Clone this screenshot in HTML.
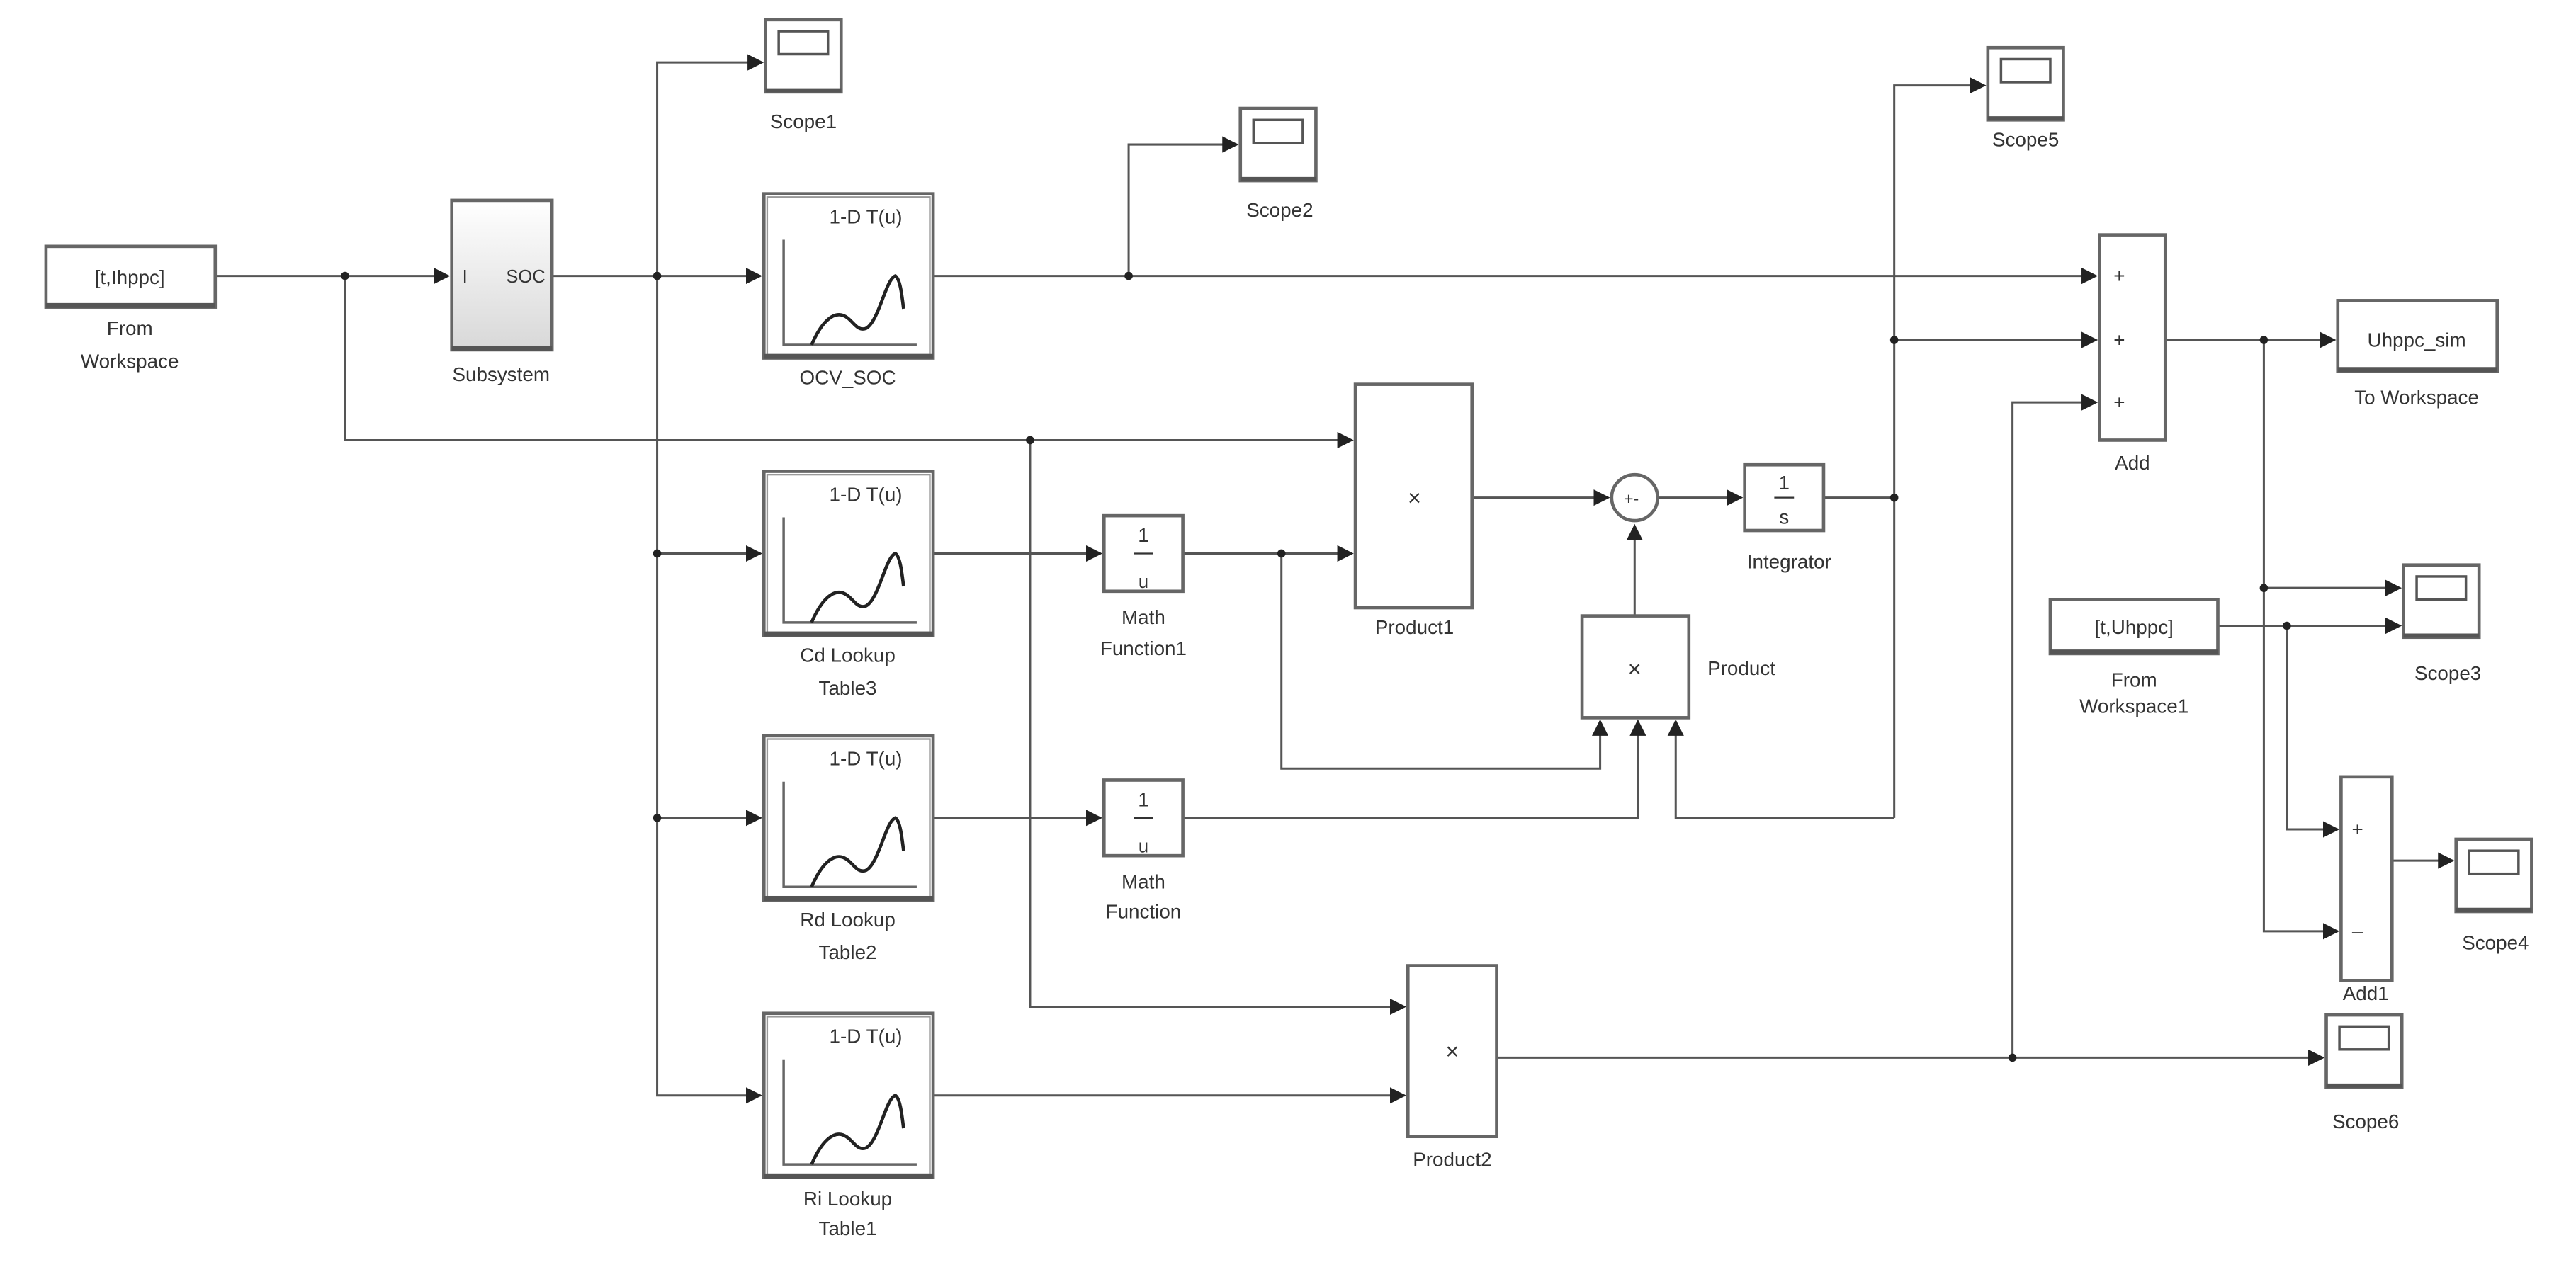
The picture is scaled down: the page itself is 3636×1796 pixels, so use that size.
<!DOCTYPE html>
<html><head><meta charset="utf-8"><style>html,body{margin:0;padding:0;background:#fff}svg{display:block}</style></head>
<body>
<svg width="3636" height="1796" viewBox="0 0 1568 774.5" preserveAspectRatio="none" xmlns="http://www.w3.org/2000/svg" font-family="Liberation Sans, sans-serif" fill="none">
<defs>
<marker id="a" markerWidth="10" markerHeight="10" refX="9" refY="5" orient="auto" markerUnits="userSpaceOnUse"><path d="M0,0 L10,5 L0,10 z" fill="#222"/></marker>
<g id="lut">
<rect x="0" y="0" width="103" height="100" stroke="#666" stroke-width="2" fill="#fff"/>
<rect x="2" y="2" width="99" height="96" stroke="#999" stroke-width="1" fill="none"/>
<line x1="0" y1="99" x2="103" y2="99" stroke="#555" stroke-width="3"/>
<text x="62" y="18" font-size="12" fill="#333" stroke="none" text-anchor="middle">1-D T(u)</text>
<path d="M12,28 V92 H93" stroke="#666" stroke-width="1.5" fill="none"/>
<path d="M29,92 C35,78 42,72 48,74 C54,76 56,84 62,82 C70,78 74,52 80,50 C83,52 84,62 85,70" stroke="#222" stroke-width="2" fill="none"/>
</g>
<g id="scope">
<rect x="0" y="0" width="46" height="44" stroke="#666" stroke-width="2" fill="#fff"/>
<rect x="8" y="7" width="30" height="14" stroke="#555" stroke-width="1.5" fill="none"/>
<line x1="0" y1="43" x2="46" y2="43" stroke="#555" stroke-width="2.5"/>
</g>
<linearGradient id="g" x1="0" y1="0" x2="0" y2="1"><stop offset="0" stop-color="#fff"/><stop offset="1" stop-color="#d8d8d8"/></linearGradient>
</defs>
<g stroke="#555" stroke-width="1.3" fill="none">
<path d="M131,168 H273" marker-end="url(#a)"/>
<path d="M336,168 H463" marker-end="url(#a)"/>
<path d="M400,168 V38 H464" marker-end="url(#a)"/>
<path d="M400,168 V667 H463" marker-end="url(#a)"/>
<path d="M400,337 H463" marker-end="url(#a)"/>
<path d="M400,498 H463" marker-end="url(#a)"/>
<path d="M568,168 H1276" marker-end="url(#a)"/>
<path d="M687,168 V88 H753" marker-end="url(#a)"/>
<path d="M210,168 V268 H823" marker-end="url(#a)"/>
<path d="M627,268 V613 H855" marker-end="url(#a)"/>
<path d="M568,337 H670" marker-end="url(#a)"/>
<path d="M720,337 H823" marker-end="url(#a)"/>
<path d="M780,337 V468 H974 V439" marker-end="url(#a)"/>
<path d="M896,303 H979" marker-end="url(#a)"/>
<path d="M1009,303 H1060" marker-end="url(#a)"/>
<path d="M1110,303 H1153"/>
<path d="M1153,498 V52 H1208" marker-end="url(#a)"/>
<path d="M1153,207 H1276" marker-end="url(#a)"/>
<path d="M1153,498 H1020 V439" marker-end="url(#a)"/>
<path d="M995,375 V320" marker-end="url(#a)"/>
<path d="M568,498 H670" marker-end="url(#a)"/>
<path d="M720,498 H997 V439" marker-end="url(#a)"/>
<path d="M568,667 H855" marker-end="url(#a)"/>
<path d="M911,644 H1414" marker-end="url(#a)"/>
<path d="M1225,644 V245 H1276" marker-end="url(#a)"/>
<path d="M1318,207 H1421" marker-end="url(#a)"/>
<path d="M1378,207 V567 H1423" marker-end="url(#a)"/>
<path d="M1378,358 H1461" marker-end="url(#a)"/>
<path d="M1350,381 H1461" marker-end="url(#a)"/>
<path d="M1392,381 V505 H1423" marker-end="url(#a)"/>
<path d="M1456,524 H1493" marker-end="url(#a)"/>
</g>
<g fill="#222">
<circle cx="210" cy="168" r="2.5"/><circle cx="400" cy="168" r="2.5"/><circle cx="400" cy="337" r="2.5"/><circle cx="400" cy="498" r="2.5"/>
<circle cx="687" cy="168" r="2.5"/><circle cx="627" cy="268" r="2.5"/><circle cx="780" cy="337" r="2.5"/>
<circle cx="1153" cy="303" r="2.5"/><circle cx="1153" cy="207" r="2.5"/><circle cx="1225" cy="644" r="2.5"/>
<circle cx="1378" cy="207" r="2.5"/><circle cx="1378" cy="358" r="2.5"/><circle cx="1392" cy="381" r="2.5"/>
</g>
<use href="#scope" x="466" y="12"/>
<use href="#scope" x="755" y="66"/>
<use href="#scope" x="1210" y="29"/>
<use href="#scope" x="1463" y="344"/>
<use href="#scope" x="1495" y="511"/>
<use href="#scope" x="1416" y="618"/>
<use href="#lut" x="465" y="118"/>
<use href="#lut" x="465" y="287"/>
<use href="#lut" x="465" y="448"/>
<use href="#lut" x="465" y="617"/>
<g stroke="#666" stroke-width="2" fill="#fff">
<rect x="28" y="150" width="103" height="37"/>
<rect x="275" y="122" width="61" height="91" fill="url(#g)"/>
<rect x="672" y="314" width="48" height="46"/>
<rect x="672" y="475" width="48" height="46"/>
<rect x="825" y="234" width="71" height="136"/>
<circle cx="995" cy="303" r="14"/>
<rect x="1062" y="283" width="48" height="40"/>
<rect x="963" y="375" width="65" height="62"/>
<rect x="857" y="588" width="54" height="104"/>
<rect x="1278" y="143" width="40" height="125"/>
<rect x="1423" y="183" width="97" height="43"/>
<rect x="1248" y="365" width="102" height="33"/>
<rect x="1425" y="473" width="31" height="124"/>
</g>
<g stroke="#555" stroke-width="3">
<line x1="28" y1="186" x2="131" y2="186"/>
<line x1="275" y1="212" x2="336" y2="212"/>
<line x1="1423" y1="225" x2="1520" y2="225"/>
<line x1="1248" y1="397" x2="1350" y2="397"/>
</g>
<g stroke="#333" stroke-width="1">
<line x1="690" y1="337" x2="702" y2="337"/>
<line x1="690" y1="498" x2="702" y2="498"/>
<line x1="1080" y1="303" x2="1092" y2="303"/>
</g>
<g font-size="12" fill="#333" text-anchor="middle">
<text x="79" y="173">[t,Ihppc]</text>
<text x="79" y="204">From</text><text x="79" y="224">Workspace</text>
<text x="283" y="172" font-size="11">I</text><text x="320" y="172" font-size="11">SOC</text>
<text x="305" y="232">Subsystem</text>
<text x="489" y="78">Scope1</text>
<text x="779" y="132">Scope2</text>
<text x="1233" y="89">Scope5</text>
<text x="1490" y="414">Scope3</text>
<text x="1519" y="578">Scope4</text>
<text x="1440" y="687">Scope6</text>
<text x="516" y="234">OCV_SOC</text>
<text x="516" y="403">Cd Lookup</text><text x="516" y="423">Table3</text>
<text x="516" y="564">Rd Lookup</text><text x="516" y="584">Table2</text>
<text x="516" y="734">Ri Lookup</text><text x="516" y="752">Table1</text>
<text x="696" y="330">1</text><text x="696" y="358" font-size="11">u</text>
<text x="696" y="380">Math</text><text x="696" y="399">Function1</text>
<text x="696" y="491">1</text><text x="696" y="519" font-size="11">u</text>
<text x="696" y="541">Math</text><text x="696" y="559">Function</text>
<text x="861" y="308" font-size="14">×</text>
<text x="861" y="386">Product1</text>
<text x="993" y="307" font-size="10">+-</text>
<text x="1086" y="298">1</text><text x="1086" y="319">s</text>
<text x="1089" y="346">Integrator</text>
<text x="995" y="412" font-size="14">×</text>
<text x="1060" y="411">Product</text>
<text x="884" y="645" font-size="14">×</text>
<text x="884" y="710">Product2</text>
<text x="1290" y="172">+</text><text x="1290" y="211">+</text><text x="1290" y="249">+</text>
<text x="1298" y="286">Add</text>
<text x="1471" y="211">Uhppc_sim</text>
<text x="1471" y="246">To Workspace</text>
<text x="1299" y="386">[t,Uhppc]</text>
<text x="1299" y="418">From</text><text x="1299" y="434">Workspace1</text>
<text x="1435" y="509">+</text><text x="1435" y="571">–</text>
<text x="1440" y="609">Add1</text>
</g>
</svg>
</body></html>
